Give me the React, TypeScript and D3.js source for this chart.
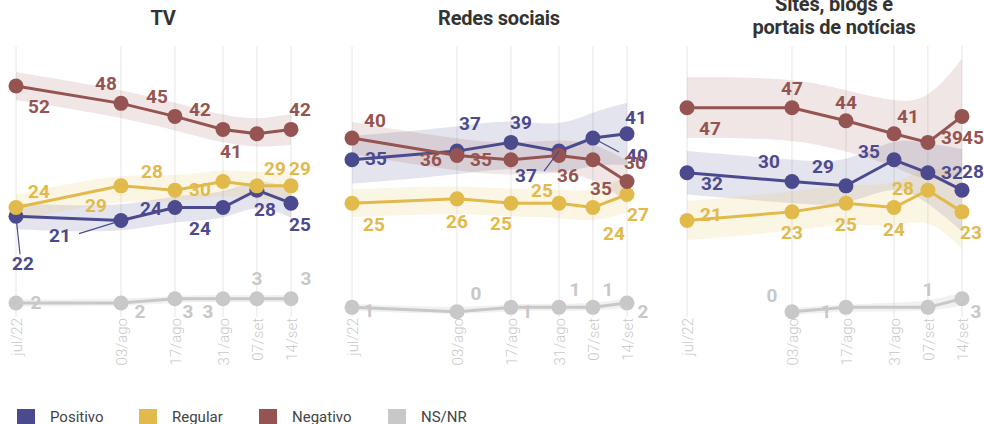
import React from "react";
import * as d3 from "d3";

// ---------- DATA ----------
const dates = ["jul/22", "03/ago", "17/ago", "31/ago", "07/set", "14/set"];
const panelTitles = [["TV"], ["Redes sociais"], ["Sites, blogs e", "portais de notícias"]];
const seriesNames = ["Positivo", "Regular", "Negativo", "NS/NR"];

const tvPositivo = [22, 21, 24, 24, 28, 25];
const tvRegular = [24, 29, 28, 30, 29, 29];
const tvNegativo = [52, 48, 45, 42, 41, 42];
const tvNsnr = [2, 2, 3, 3, 3, 3];

const redesPositivo = [35, 37, 39, 37, 40, 41];
const redesRegular = [25, 26, 25, 25, 24, 27];
const redesNegativo = [40, 36, 35, 36, 35, 30];
const redesNsnr = [1, 0, 1, 1, 1, 2];

const sitesPositivo = [32, 30, 29, 35, 32, 28];
const sitesRegular = [21, 23, 25, 24, 28, 23];
const sitesNegativo = [47, 47, 44, 41, 39, 45];
const sitesNsnr: (number | null)[] = [null, 0, 1, null, 1, 3];

// margin of the shaded band (points), per panel, per series
const tvMargins = [3, 3, 3.2, 0.8];
const redesMargins = [5.5, 3.2, 3.7, 0.8];
const sitesMargins = [5, 4.5, 7, 0.8];
// widening of the band along the dates, per panel
const tvSpread = [1, 1, 1, 1, 1, 1.1];
const redesSpread = [1, 1, 1, 1, 1.1, 1.3];
const sitesSpread = [1, 1, 1, 1.05, 1.35, 1.9];

// ---------- STYLE / LAYOUT ----------
const colors = ["#4C4A8E", "#E2B94B", "#955451", "#C8C8C8"];
const W = 984;
const H = 424;
const panelLeft = [16, 352, 687];
const panelWidth = 275;
const dateFractions = [0, 0.3818, 0.578, 0.7527, 0.876, 1];
const FONT = "Roboto, 'Noto Sans', sans-serif";

// label offsets [dx, dy(baseline)] relative to the dot, per panel, per series, per date
const labelOffsets: number[][][][] = [
  [
    [[7, 54], [-61, 21], [-24, 7], [-23, 27], [8, 26], [9, 28]],
    [[23, -10], [-25, 26], [-23, -12], [-23, 15], [18, -11], [9, -11]],
    [[23, 27], [-15, -13], [-18, -13], [-23, -13], [-26, 24], [9, -13]],
    [[20, 6], [19, 15], [13, 19], [-15, 19], [0, -14], [15, -14]],
  ],
  [
    [[24, 5], [13, -21], [10, -13], [-33, 31], [44, 24], [9, -10]],
    [[22, 28], [0, 29], [-10, 27], [-17, -6], [21, 32], [11, 26]],
    [[23, -11], [-26, 11], [-30, 6], [9, 27], [8, 35], [8, -12]],
    [[17, 10], [19, -12], [16, 11], [16, -11], [15, -11], [16, 15]],
  ],
  [
    [[25, 17], [-23, -13], [-23, -13], [-25, -2], [24, 6], [11, -12]],
    [[24, 0], [0, 27], [0, 28], [0, 28], [-25, 5], [9, 27]],
    [[23, 27], [0, -13], [0, -12], [14, -11], [24, 2], [11, 28]],
    [[0, 0], [-20, -10], [-20, 11], [0, 0], [0, -11], [14, 19]],
  ],
];

// leader lines: [panel, series, dateIndex, dx, dy]
const leaders = [
  [0, 0, 0, 4, 38],
  [0, 0, 1, -42, 13],
  [1, 0, 3, -15, 20],
  [1, 0, 4, 26, 14],
];

const legendX = [17, 139, 259, 388];

export default function App() {
  const panels = [
    { values: [tvPositivo, tvRegular, tvNegativo, tvNsnr], margins: tvMargins, spread: tvSpread },
    { values: [redesPositivo, redesRegular, redesNegativo, redesNsnr], margins: redesMargins, spread: redesSpread },
    { values: [sitesPositivo, sitesRegular, sitesNegativo, sitesNsnr], margins: sitesMargins, spread: sitesSpread },
  ];

  const y = d3.scaleLinear().domain([0, 52]).range([311.7, 86]);

  return (
    <svg
      width={W}
      height={H}
      style={{ position: "absolute", left: 0, top: 0, display: "block", background: "#fff" }}
      fontFamily={FONT}
    >
      {panels.map((p, pi) => {
        const x = d3
          .scaleOrdinal<string, number>()
          .domain(dates)
          .range(dateFractions.map((f) => panelLeft[pi] + f * panelWidth));
        const cx = panelLeft[pi] + panelWidth / 2 + 9.5;
        const titleLines = panelTitles[pi];
        return (
          <g key={pi}>
            {/* title */}
            {titleLines.map((t, ti) => (
              <text
                key={ti}
                x={cx}
                y={titleLines.length === 1 ? 25 : 11 + ti * 22.5}
                textAnchor="middle"
                fontSize={20}
                fontWeight={700}
                fill="#333"
                letterSpacing={-0.2}
              >
                {t}
              </text>
            ))}
            {/* grid + axis labels */}
            {dates.map((d) => (
              <g key={d}>
                <line x1={x(d)} x2={x(d)} y1={46} y2={317} stroke="#e6e6e6" strokeWidth={1} />
                <text
                  transform={`translate(${x(d) + 6},${318}) rotate(-90)`}
                  textAnchor="end"
                  fontSize={15}
                  fontWeight={300}
                  fill="#c9c9c9"
                >
                  {d}
                </text>
              </g>
            ))}
            {/* bands */}
            {p.values.map((vals, si) => {
              const pts = dates
                .map((d, i) => ({ d, v: vals[i], s: p.spread[i] }))
                .filter((o) => o.v !== null && o.v !== undefined) as { d: string; v: number; s: number }[];
              const area = d3
                .area<{ d: string; v: number; s: number }>()
                .x((o) => x(o.d))
                .y0((o) => y(o.v - p.margins[si] * o.s))
                .y1((o) => y(o.v + p.margins[si] * o.s))
                .curve(d3.curveBasis);
              return (
                <path
                  key={"band" + si}
                  d={area(pts) || ""}
                  fill={colors[si]}
                  fillOpacity={si === 3 ? 0.25 : 0.15}
                />
              );
            })}
            {/* lines + dots */}
            {p.values.map((vals, si) => {
              const pts = dates
                .map((d, i) => ({ d, v: vals[i] }))
                .filter((o) => o.v !== null && o.v !== undefined) as { d: string; v: number }[];
              const line = d3
                .line<{ d: string; v: number }>()
                .x((o) => x(o.d))
                .y((o) => y(o.v));
              return (
                <g key={"ser" + si}>
                  <path d={line(pts) || ""} fill="none" stroke={colors[si]} strokeWidth={3} />
                  {pts.map((o) => (
                    <circle key={o.d} cx={x(o.d)} cy={y(o.v)} r={7.5} fill={colors[si]} />
                  ))}
                </g>
              );
            })}
            {/* leader lines */}
            {leaders
              .filter((l) => l[0] === pi)
              .map((l, li) => {
                const d = dates[l[2]];
                const v = p.values[l[1]][l[2]] as number;
                return (
                  <line
                    key={"ld" + li}
                    x1={x(d)}
                    y1={y(v)}
                    x2={x(d) + l[3]}
                    y2={y(v) + l[4]}
                    stroke={colors[l[1]]}
                    strokeWidth={1.2}
                  />
                );
              })}
            {/* labels */}
            {p.values.map((vals, si) =>
              dates.map((d, i) => {
                const v = vals[i];
                if (v === null || v === undefined) return null;
                const off = labelOffsets[pi][si][i];
                return (
                  <text
                    key={"lb" + si + "-" + i}
                    x={x(d) + off[0]}
                    y={y(v) + off[1]}
                    textAnchor="middle"
                    fontSize={19}
                    fontWeight={700}
                    fill={colors[si]}
                  >
                    {v}
                  </text>
                );
              })
            )}
          </g>
        );
      })}
      {/* legend */}
      {seriesNames.map((n, i) => (
        <g key={n} transform={`translate(${legendX[i]},409)`}>
          <rect width={18} height={15} fill={colors[i]} />
          <text x={33} y={13} fontSize={15} fill="#444">
            {n}
          </text>
        </g>
      ))}
    </svg>
  );
}
